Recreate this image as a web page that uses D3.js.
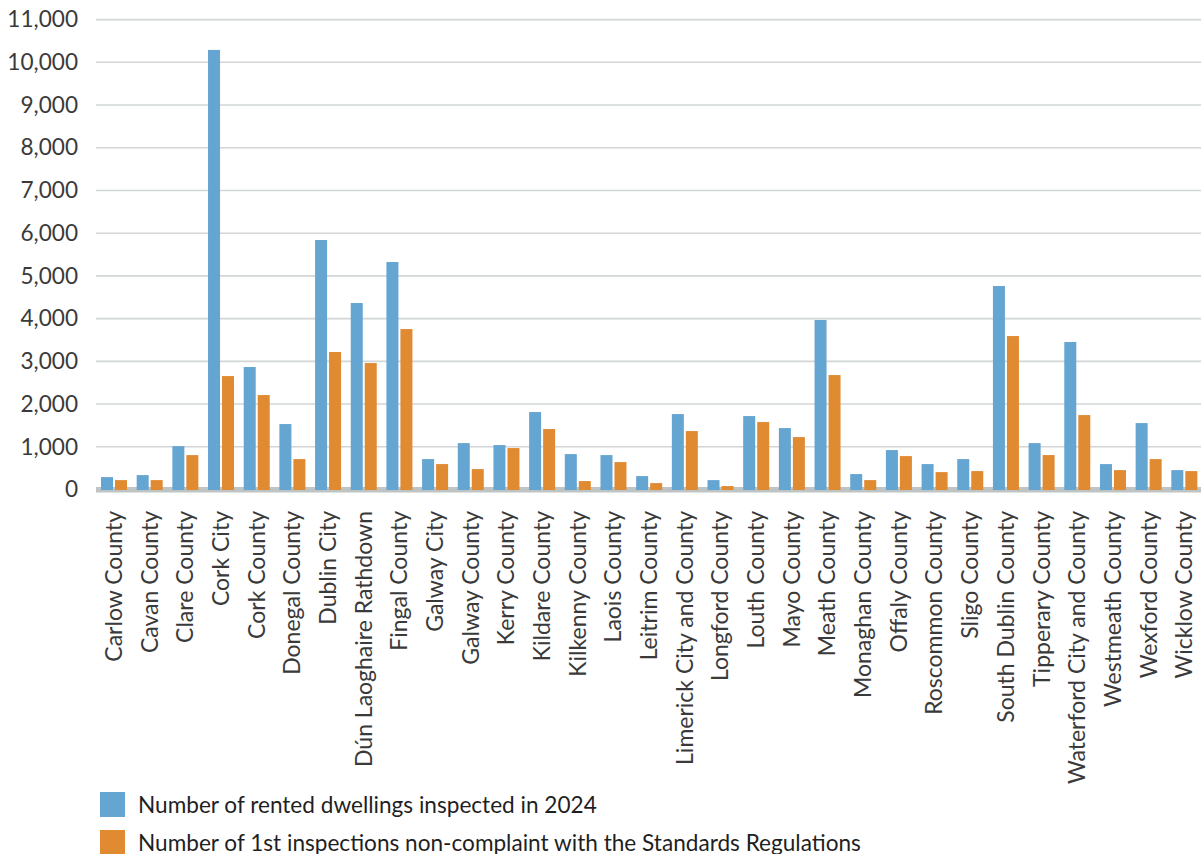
<!DOCTYPE html>
<html>
<head>
<meta charset="utf-8">
<script src="https://cdn.jsdelivr.net/npm/d3@7"></script>
<style>
  html, body { margin: 0; padding: 0; background: #ffffff; }
  svg { display: block; font-family: Lato, "Open Sans", sans-serif; }
</style>
</head>
<body>
<svg id="chart" width="1201" height="854"></svg>
<script>
const categories = [
  "Carlow County", "Cavan County", "Clare County", "Cork City", "Cork County",
  "Donegal County", "Dublin City", "Dún Laoghaire Rathdown", "Fingal County",
  "Galway City", "Galway County", "Kerry County", "Kildare County", "Kilkenny County",
  "Laois County", "Leitrim County", "Limerick City and County", "Longford County",
  "Louth County", "Mayo County", "Meath County", "Monaghan County", "Offaly County",
  "Roscommon County", "Sligo County", "South Dublin County", "Tipperary County",
  "Waterford City and County", "Westmeath County", "Wexford County", "Wicklow County"
];
const inspected = [
  290, 337, 1015, 10290, 2867, 1532, 5840, 4365, 5325,
  712, 1086, 1040, 1813, 829, 806, 314, 1766, 220,
  1719, 1438, 3967, 361, 923, 595, 712, 4763, 1086,
  3452, 595, 1555, 454
];
const nonCompliant = [
  220, 220, 805, 2655, 2211, 712, 3218, 2960, 3756,
  595, 478, 970, 1415, 197, 642, 150, 1368, 80,
  1579, 1227, 2679, 220, 782, 407, 431, 3592, 806,
  1742, 454, 712, 431
];
const seriesNames = [
  "Number of rented dwellings inspected in 2024",
  "Number of 1st inspections non-complaint with the Standards Regulations"
];
const yTicks = [0, 1000, 2000, 3000, 4000, 5000, 6000, 7000, 8000, 9000, 10000, 11000];

const colors = ["#65a5d1", "#e08a32"];
const textColor = "#3a3a3a";

const svg = d3.select("#chart");

const y = d3.scaleLinear().domain([0, 11000]).range([489.5, 19.6]);
const x = d3.scaleBand().domain(categories).range([96, 1202]).padding(0);
const x1 = d3.scaleBand().domain([0, 1]).range([5, 31]).paddingInner(1 / 7);

// gridlines
const gGrid = svg.append("g");
gGrid.selectAll("line")
  .data(yTicks.filter(d => d > 0))
  .join("line")
  .attr("x1", 96).attr("x2", 1201)
  .attr("y1", d => y(d)).attr("y2", d => y(d))
  .attr("stroke", "#d2d6d6").attr("stroke-width", 1.6);

// axis base line
svg.append("line")
  .attr("x1", 96).attr("x2", 1201)
  .attr("y1", y(0) + 0.2).attr("y2", y(0) + 0.2)
  .attr("stroke", "#bec4c4").attr("stroke-width", 5.5);

// y axis labels
const yAxis = d3.axisLeft(y).tickValues(yTicks).tickFormat(d3.format(",")).tickSize(0).tickPadding(18);
const gy = svg.append("g").attr("transform", "translate(96,0)").call(yAxis);
gy.select(".domain").remove();
gy.selectAll("text")
  .attr("font-family", "Lato, sans-serif")
  .attr("font-size", 22.6)
  .attr("fill", textColor);

// bars
const data = categories.map((c, i) => ({ c, vals: [inspected[i], nonCompliant[i]] }));
const groups = svg.append("g").selectAll("g")
  .data(data)
  .join("g")
  .attr("transform", d => `translate(${x(d.c)},0)`);
groups.selectAll("rect")
  .data(d => d.vals.map((v, k) => ({ v, k })))
  .join("rect")
  .attr("x", d => x1(d.k))
  .attr("width", x1.bandwidth())
  .attr("y", d => y(d.v))
  .attr("height", d => y(0) + 0.5 - y(d.v))
  .attr("fill", d => colors[d.k]);

// x axis labels
const xAxis = d3.axisBottom(x).tickSize(0).tickPadding(0);
const gx = svg.append("g").attr("transform", "translate(0,511)").call(xAxis);
gx.select(".domain").remove();
gx.selectAll("text")
  .attr("font-family", "Lato, sans-serif")
  .attr("font-size", 23)
  .attr("fill", textColor)
  .attr("text-anchor", "end")
  .attr("transform", "rotate(-90)")
  .attr("x", 0)
  .attr("y", 0)
  .attr("dy", "0.35em");

// legend
const legend = svg.append("g");
const legendY = [792, 830];
seriesNames.forEach((name, k) => {
  legend.append("rect")
    .attr("x", 100).attr("y", legendY[k])
    .attr("width", 25).attr("height", 25)
    .attr("fill", colors[k]);
  legend.append("text")
    .attr("x", 138).attr("y", legendY[k] + 21)
    .attr("font-family", "Lato, sans-serif")
    .attr("font-size", 22.6)
    .attr("fill", "#1f1f1f")
    .text(name);
});
</script>
</body>
</html>
